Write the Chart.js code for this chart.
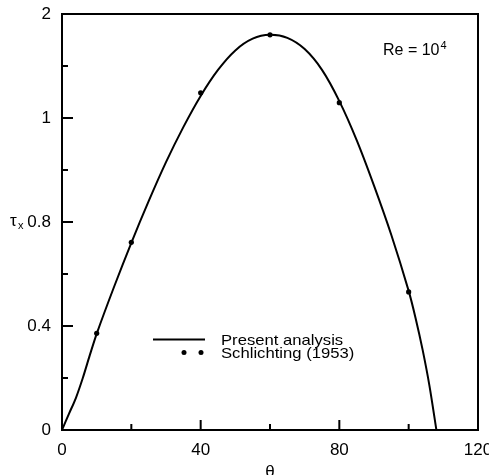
<!DOCTYPE html>
<html><head><meta charset="utf-8">
<script src="https://cdn.jsdelivr.net/npm/chart.js@4.4.1/dist/chart.umd.min.js"></script>
<style>html,body{margin:0;padding:0;background:#fff;}#wrap{width:489px;height:475px;position:relative;}</style>
</head><body><div id="wrap"><canvas id="c" width="489" height="475"></canvas></div>
<script>
// Present analysis (solid curve)
const curveTheta = [0,2,4,6,8,10,15,20,25,30,35,40,45,50,55,60,65,70,75,80,85,90,95,100,102,104,106,108];
const curveTau   = [0,0.062,0.123,0.2,0.287,0.37,0.55,0.72,0.88,1.03,1.165,1.285,1.385,1.46,1.505,1.52,1.508,1.465,1.385,1.265,1.115,0.94,0.75,0.535,0.43,0.31,0.17,0];
// Schlichting (1953) (dots)
const expTheta = [10,20,40,60,80,100];
const expTau   = [0.372,0.722,1.297,1.52,1.259,0.531];
// Axes
const xTickValues = [0,40,80,120];
const xTickLabels = ["0","40","80","120"];
const xMinorTicks = [20,60,100];
const yTickValues = [0,0.4,0.8,1.2,1.6];
const yTickLabels = ["0","0.4","0.8","1","2"];
const yMinorTicks = [0.2,0.6,1.0,1.4];
const seriesNames = ["Present analysis","Schlichting (1953)"];
const xTitle = "θ";
const yTitle = "τ", yTitleSub = "x";
const noteText = "Re = 10", noteSup = "4";

const FONT = '"Liberation Sans", Arial, sans-serif';

function stretchedText(ctx, text, x, y, sx) {
  ctx.save();
  ctx.translate(x, y);
  ctx.scale(sx, 1);
  ctx.fillText(text, 0, 0);
  ctx.restore();
}

const decor = {
  id: 'decor',
  afterDraw(chart) {
    const ctx = chart.ctx, a = chart.chartArea;
    const xs = chart.scales.x, ys = chart.scales.y;
    ctx.save();
    ctx.strokeStyle = '#000'; ctx.fillStyle = '#000';
    // top & right frame
    ctx.lineWidth = 2;
    ctx.beginPath();
    ctx.moveTo(a.left - 1, a.top); ctx.lineTo(a.right, a.top); ctx.lineTo(a.right, a.bottom + 1);
    ctx.stroke();
    // inward ticks
    ctx.beginPath();
    xTickValues.forEach(v => { const p = xs.getPixelForValue(v); ctx.moveTo(p, a.bottom); ctx.lineTo(p, a.bottom - 10); });
    xMinorTicks.forEach(v => { const p = xs.getPixelForValue(v); ctx.moveTo(p, a.bottom); ctx.lineTo(p, a.bottom - 6); });
    yTickValues.forEach(v => { const p = ys.getPixelForValue(v); ctx.moveTo(a.left, p); ctx.lineTo(a.left + 11, p); });
    yMinorTicks.forEach(v => { const p = ys.getPixelForValue(v); ctx.moveTo(a.left, p); ctx.lineTo(a.left + 6, p); });
    ctx.stroke();
    // axis titles
    ctx.textBaseline = 'middle';
    ctx.textAlign = 'center';
    ctx.font = '17px ' + FONT;
    ctx.fillText(xTitle, (a.left + a.right) / 2, 472);
    ctx.textAlign = 'left';
    ctx.font = '17px ' + FONT;
    const yMid = ys.getPixelForValue(0.8);
    ctx.fillText(yTitle, 10, yMid - 1);
    ctx.font = '11px ' + FONT;
    ctx.fillText(yTitleSub, 18, yMid + 4);
    // note
    ctx.font = '16px ' + FONT;
    ctx.fillText(noteText, 383, 51);
    const w = ctx.measureText(noteText).width;
    ctx.font = '11px ' + FONT;
    ctx.fillText(noteSup, 383 + w + 1, 46);
    // legend
    const lx1 = 153, lx2 = 205, ly1 = 339.5, ly2 = 352.5, tx = 221;
    ctx.lineWidth = 2;
    ctx.beginPath(); ctx.moveTo(lx1, ly1); ctx.lineTo(lx2, ly1); ctx.stroke();
    [184, 201].forEach(x => { ctx.beginPath(); ctx.arc(x, ly2, 2.5, 0, Math.PI * 2); ctx.fill(); });
    ctx.font = '15px ' + FONT;
    stretchedText(ctx, seriesNames[0], tx, ly1 + 1, 1.11);
    stretchedText(ctx, seriesNames[1], tx, ly2 + 1, 1.11);
    ctx.restore();
  }
};

new Chart(document.getElementById('c'), {
  type: 'line',
  data: {
    datasets: [
      {
        label: seriesNames[0],
        data: curveTheta.map((t, i) => ({ x: t, y: curveTau[i] })),
        borderColor: '#000', borderWidth: 2, pointRadius: 0, tension: 0.3, fill: false
      },
      {
        label: seriesNames[1],
        data: expTheta.map((t, i) => ({ x: t, y: expTau[i] })),
        showLine: false, pointRadius: 2.6, pointBackgroundColor: '#000', pointBorderColor: '#000', pointBorderWidth: 0
      }
    ]
  },
  options: {
    responsive: false, animation: false, devicePixelRatio: 1,
    layout: { padding: { top: 14, right: 11, left: 0, bottom: 0 } },
    plugins: { legend: { display: false }, tooltip: { enabled: false } },
    scales: {
      x: {
        type: 'linear', min: 0, max: 120,
        afterBuildTicks: s => { s.ticks = xTickValues.map(v => ({ value: v })); },
        afterFit: s => { s.height = 45; s.paddingLeft = 0; s.paddingRight = 0; },
        grid: { display: false, drawTicks: false },
        border: { display: true, color: '#000', width: 2 },
        ticks: { color: '#000', font: { family: FONT, size: 17 }, padding: 10, maxRotation: 0, autoSkip: false,
          callback: v => { const i = xTickValues.indexOf(v); return i >= 0 ? xTickLabels[i] : ''; } }
      },
      y: {
        type: 'linear', min: 0, max: 1.6,
        afterBuildTicks: s => { s.ticks = yTickValues.map(v => ({ value: v })); },
        afterFit: s => { s.width = 62; s.paddingTop = 0; s.paddingBottom = 0; },
        grid: { display: false, drawTicks: false },
        border: { display: true, color: '#000', width: 2 },
        ticks: { color: '#000', font: { family: FONT, size: 17 }, padding: 11, autoSkip: false,
          callback: v => { const i = yTickValues.findIndex(t => Math.abs(t - v) < 1e-9); return i >= 0 ? yTickLabels[i] : ''; } }
      }
    }
  },
  plugins: [decor]
});
</script>
</body></html>
